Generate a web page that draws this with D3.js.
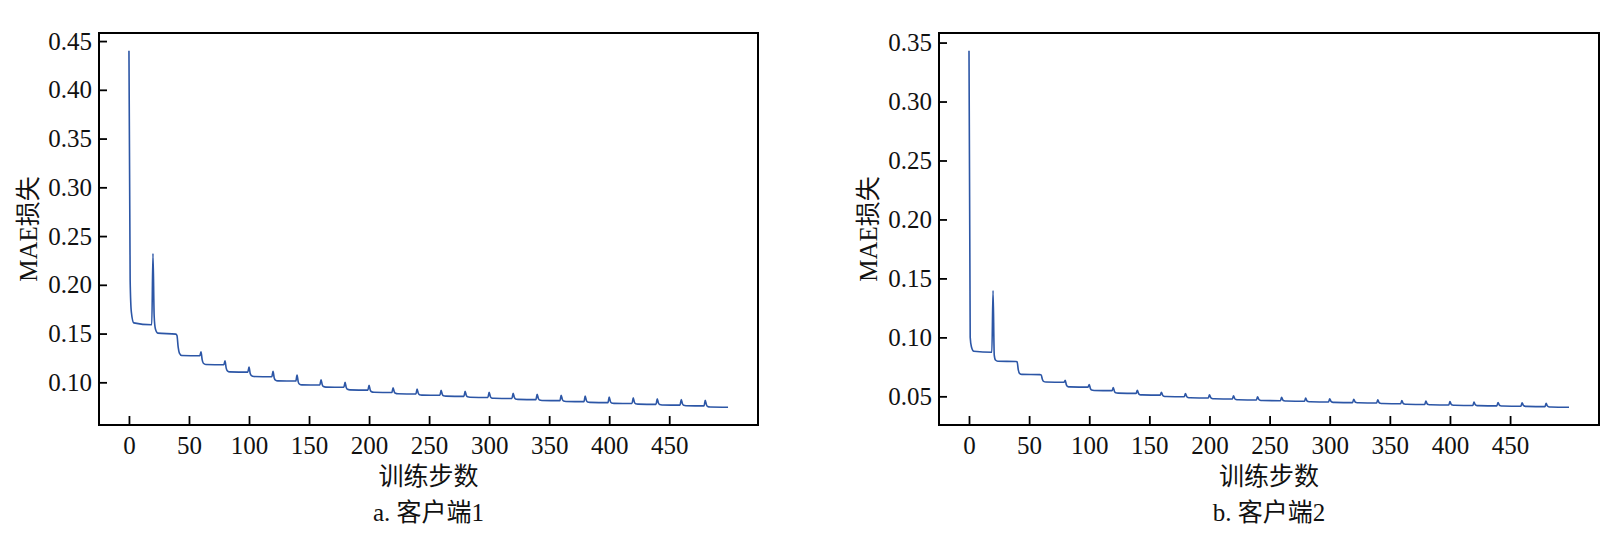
<!DOCTYPE html>
<html>
<head>
<meta charset="utf-8">
<script src="https://cdn.jsdelivr.net/npm/d3@7"></script>
<style>
  body { margin: 0; background: #fff; }
</style>
</head>
<body>
<div id="canvas"></div>
<script>
// MAE loss per training step, two clients
// points: peak at each round start (every 20 steps), then decay to a plateau

const steps = [
  0, 1, 2, 4, 19,       20, 21, 22, 24, 39,    40, 41, 42, 44, 59,    60, 61, 62, 64, 79,
  80, 81, 82, 84, 99,   100, 101, 102, 104, 119, 120, 121, 122, 124, 139, 140, 141, 142, 144, 159,
  160, 161, 162, 164, 179, 180, 181, 182, 184, 199, 200, 201, 202, 204, 219, 220, 221, 222, 224, 239,
  240, 241, 242, 244, 259, 260, 261, 262, 264, 279, 280, 281, 282, 284, 299, 300, 301, 302, 304, 319,
  320, 321, 322, 324, 339, 340, 341, 342, 344, 359, 360, 361, 362, 364, 379, 380, 381, 382, 384, 399,
  400, 401, 402, 404, 419, 420, 421, 422, 424, 439, 440, 441, 442, 444, 459, 460, 461, 462, 464, 479,
  480, 481, 482, 484, 499
];

const maeClient1 = [
  0.44, 0.205, 0.172, 0.161, 0.159,          0.232, 0.168, 0.155, 0.1505, 0.1494,
  0.148, 0.136, 0.130, 0.1275, 0.1272,       0.1313, 0.123, 0.1195, 0.1182, 0.118,
  0.122, 0.1145, 0.1118, 0.1107, 0.1105,     0.1156, 0.109, 0.1068, 0.1059, 0.1057,
  0.1112, 0.1045, 0.1023, 0.1015, 0.1013,    0.1075, 0.1005, 0.0982, 0.0974, 0.0972,
  0.1025, 0.0975, 0.0957, 0.0951, 0.0949,    0.100, 0.0947, 0.0928, 0.0922, 0.092,
  0.097, 0.092, 0.0904, 0.0898, 0.0896,      0.0945, 0.0902, 0.0887, 0.0882, 0.088,
  0.093, 0.0888, 0.0873, 0.0869, 0.0867,     0.0918, 0.0876, 0.0862, 0.0858, 0.0856,
  0.0908, 0.0866, 0.0851, 0.0847, 0.0845,    0.0898, 0.0855, 0.084, 0.0836, 0.0834,
  0.0888, 0.0845, 0.0829, 0.0825, 0.0823,    0.0878, 0.0834, 0.0818, 0.0814, 0.0812,
  0.0868, 0.0824, 0.0808, 0.0804, 0.0802,    0.0858, 0.0814, 0.0798, 0.0794, 0.0792,
  0.0848, 0.0804, 0.0788, 0.0784, 0.0782,    0.084, 0.0796, 0.078, 0.0776, 0.0774,
  0.0832, 0.0788, 0.0772, 0.0768, 0.0766,    0.0824, 0.078, 0.0764, 0.076, 0.0758,
  0.0815, 0.077, 0.0752, 0.0747, 0.0745
];

const maeClient2 = [
  0.343, 0.100, 0.092, 0.0882, 0.0874,       0.1397, 0.085, 0.0808, 0.0798, 0.0795,
  0.0793, 0.0725, 0.0695, 0.0686, 0.0684,    0.0682, 0.0645, 0.0627, 0.0621, 0.0619,
  0.0636, 0.0597, 0.0584, 0.058, 0.0578,     0.060, 0.0565, 0.0553, 0.055, 0.0548,
  0.0575, 0.0541, 0.053, 0.0527, 0.0525,     0.0552, 0.0524, 0.0514, 0.0512, 0.051,
  0.0535, 0.051, 0.0501, 0.0499, 0.0497,     0.0524, 0.0499, 0.049, 0.0488, 0.0486,
  0.0513, 0.049, 0.0482, 0.048, 0.0478,      0.0505, 0.0481, 0.0473, 0.0471, 0.0469,
  0.0497, 0.0474, 0.0467, 0.0465, 0.0463,    0.0491, 0.0469, 0.0462, 0.046, 0.0458,
  0.0486, 0.0463, 0.0456, 0.0454, 0.0452,    0.048, 0.0458, 0.0451, 0.0449, 0.0447,
  0.0475, 0.0454, 0.0447, 0.0445, 0.0443,    0.0471, 0.0448, 0.0441, 0.0439, 0.0437,
  0.0465, 0.0442, 0.0435, 0.0433, 0.0431,    0.046, 0.0437, 0.043, 0.0428, 0.0426,
  0.0455, 0.0433, 0.0426, 0.0424, 0.0422,    0.0451, 0.043, 0.0423, 0.0421, 0.0419,
  0.0448, 0.0427, 0.042, 0.0418, 0.0416,     0.0445, 0.0424, 0.0417, 0.0415, 0.0413,
  0.0441, 0.0419, 0.0412, 0.041, 0.0408
];

const xTicks = [0, 50, 100, 150, 200, 250, 300, 350, 400, 450];
const yTicksClient1 = [0.10, 0.15, 0.20, 0.25, 0.30, 0.35, 0.40, 0.45];
const yTicksClient2 = [0.05, 0.10, 0.15, 0.20, 0.25, 0.30, 0.35];

const xLabel = "训练步数";
const yLabel = "MAE损失";
const captions = ["a. 客户端1", "b. 客户端2"];

const width = 1613;
const height = 540;
const numFont = "'Liberation Serif', 'Times New Roman', serif";
const cjkFont = "'Liberation Serif', 'Noto Sans CJK SC', serif";
const lineColor = "#2c56a6";

const svg = d3.select("#canvas")
    .append("svg")
    .attr("width", width)
    .attr("height", height)
    .attr("viewBox", [0, 0, width, height]);

// pads domain by 5% each side like matplotlib does
function padded(ext) {
    const m = (ext[1] - ext[0]) * 0.05;
    return [ext[0] - m, ext[1] + m];
}

function drawPanel(left, right, values, yTicks, caption) {
    const top = 33, bottom = 425;

    const x = d3.scaleLinear()
        .domain(padded(d3.extent(steps)))
        .range([left, right]);

    const y = d3.scaleLinear()
        .domain(padded(d3.extent(values)))
        .range([bottom, top]);

    // x axis (ticks pointing in)
    svg.append("g")
        .attr("transform", `translate(0,${bottom})`)
        .call(d3.axisBottom(x).tickValues(xTicks).tickSize(-9).tickPadding(11).tickFormat(d3.format("d")))
        .call(g => g.select(".domain").remove())
        .call(g => g.selectAll(".tick line").attr("stroke", "#000").attr("stroke-width", 1.8))
        .call(g => g.selectAll(".tick text")
            .attr("font-family", numFont)
            .attr("font-size", 25)
            .attr("fill", "#111"));

    // y axis
    svg.append("g")
        .attr("transform", `translate(${left},0)`)
        .call(d3.axisLeft(y).tickValues(yTicks).tickSize(-8).tickPadding(7).tickFormat(d3.format(".2f")))
        .call(g => g.select(".domain").remove())
        .call(g => g.selectAll(".tick line").attr("stroke", "#000").attr("stroke-width", 1.8))
        .call(g => g.selectAll(".tick text")
            .attr("font-family", numFont)
            .attr("font-size", 25)
            .attr("fill", "#111"));

    // the line
    const line = d3.line()
        .x((d, i) => x(steps[i]))
        .y(d => y(d))
        .curve(d3.curveMonotoneX);

    svg.append("path")
        .datum(values)
        .attr("fill", "none")
        .attr("stroke", lineColor)
        .attr("stroke-width", 1.6)
        .attr("stroke-linejoin", "round")
        .attr("d", line);

    // frame
    svg.append("rect")
        .attr("x", left)
        .attr("y", top)
        .attr("width", right - left)
        .attr("height", bottom - top)
        .attr("fill", "none")
        .attr("stroke", "#000")
        .attr("stroke-width", 2);

    const cx = (left + right) / 2;

    // axis titles
    svg.append("text")
        .attr("x", cx)
        .attr("y", 485)
        .attr("text-anchor", "middle")
        .attr("font-family", cjkFont)
        .attr("font-size", 25)
        .attr("fill", "#111")
        .text(xLabel);

    svg.append("text")
        .attr("transform", `translate(${left - 62},${(top + bottom) / 2}) rotate(-90)`)
        .attr("text-anchor", "middle")
        .attr("font-family", cjkFont)
        .attr("font-size", 25)
        .attr("fill", "#111")
        .text(yLabel);

    svg.append("text")
        .attr("x", cx)
        .attr("y", 521)
        .attr("text-anchor", "middle")
        .attr("font-family", cjkFont)
        .attr("font-size", 25)
        .attr("fill", "#111")
        .text(caption);
}

drawPanel(99, 758, maeClient1, yTicksClient1, captions[0]);
drawPanel(939, 1599, maeClient2, yTicksClient2, captions[1]);
</script>
</body>
</html>
